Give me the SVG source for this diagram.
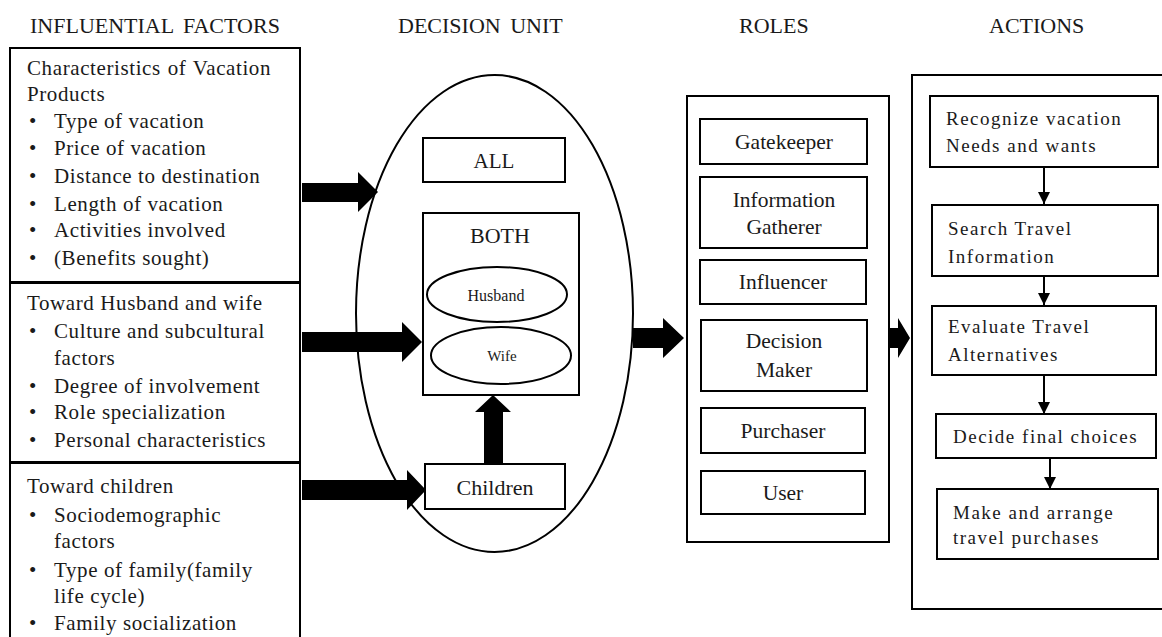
<svg xmlns="http://www.w3.org/2000/svg" width="1162" height="637" viewBox="0 0 1162 637">
<style>
text{font-family:"Liberation Serif","Times New Roman",Tinos,"Noto Serif","DejaVu Serif",serif;fill:#1a1a1a}
.h{font-size:22px}
.b{font-size:21px;letter-spacing:0.6px}
.r{font-size:21.5px;text-anchor:middle}
.a{font-size:19px;letter-spacing:1.5px}
.c{text-anchor:middle}
.box{fill:#fff;stroke:#000;stroke-width:2}
.ln{fill:none;stroke:#000;stroke-width:2}
.blk{fill:#000;stroke:none}
</style>
<defs>
<marker id="ah" viewBox="0 0 12 12" refX="12" refY="6" markerWidth="12" markerHeight="12" markerUnits="userSpaceOnUse" orient="auto">
<path d="M0,0 L12,6 L0,12 Z" fill="#000"/>
</marker>
</defs>
<rect width="1162" height="637" fill="#fff"/>

<g id="headings">
<text class="h" x="30" y="33" style="word-spacing:4px">INFLUENTIAL FACTORS</text>
<text class="h" x="398" y="33" style="word-spacing:4px">DECISION UNIT</text>
<text class="h" x="739" y="33">ROLES</text>
<text class="h" x="989" y="33">ACTIONS</text>
</g>

<g id="factor-product">
<rect class="box" x="10" y="48" width="290" height="234"/>
<text class="b" x="27" y="75" style="word-spacing:1px">Characteristics of Vacation</text>
<text class="b" x="27" y="101">Products</text>
<text class="b" x="29" y="128">•</text><text class="b" x="54" y="128">Type of vacation</text>
<text class="b" x="29" y="155">•</text><text class="b" x="54" y="155">Price of vacation</text>
<text class="b" x="29" y="183">•</text><text class="b" x="54" y="183">Distance to destination</text>
<text class="b" x="29" y="211">•</text><text class="b" x="54" y="211">Length of vacation</text>
<text class="b" x="29" y="237">•</text><text class="b" x="54" y="237">Activities involved</text>
<text class="b" x="29" y="265">•</text><text class="b" x="54" y="265">(Benefits sought)</text>
</g>

<g id="factor-couple">
<rect class="box" x="10" y="283" width="290" height="179"/>
<text class="b" x="27" y="310">Toward Husband and wife</text>
<text class="b" x="29" y="338">•</text><text class="b" x="54" y="338">Culture and subcultural</text>
<text class="b" x="54" y="365">factors</text>
<text class="b" x="29" y="393">•</text><text class="b" x="54" y="393">Degree of involvement</text>
<text class="b" x="29" y="419">•</text><text class="b" x="54" y="419">Role specialization</text>
<text class="b" x="29" y="447">•</text><text class="b" x="54" y="447">Personal characteristics</text>
</g>

<g id="factor-children">
<rect class="box" x="10" y="463" width="290" height="190"/>
<text class="b" x="27" y="493">Toward children</text>
<text class="b" x="29" y="522">•</text><text class="b" x="54" y="522">Sociodemographic</text>
<text class="b" x="54" y="548">factors</text>
<text class="b" x="29" y="577">•</text><text class="b" x="54" y="577">Type of family(family</text>
<text class="b" x="54" y="603">life cycle)</text>
<text class="b" x="29" y="630">•</text><text class="b" x="54" y="630">Family socialization</text>
</g>

<g id="decision-unit">
<ellipse cx="494.5" cy="313.5" rx="138.5" ry="238.5" fill="#fff" stroke="#000" stroke-width="2"/>
</g>

<g id="all">
<rect class="box" x="423" y="138" width="142" height="44"/>
<text class="c" x="494" y="168" style="font-size:21px">ALL</text>
</g>

<g id="both">
<rect class="box" x="423" y="213" width="156" height="182"/>
<text class="c" x="500" y="243" style="font-size:22px">BOTH</text>
</g>

<g id="husband">
<ellipse cx="497" cy="294.5" rx="70" ry="27.5" fill="#fff" stroke="#000" stroke-width="2"/>
<text class="c" x="496" y="301" style="font-size:16px">Husband</text>
</g>

<g id="wife">
<ellipse cx="501" cy="355.5" rx="70" ry="28.5" fill="#fff" stroke="#000" stroke-width="2"/>
<text class="c" x="502" y="361" style="font-size:15px">Wife</text>
</g>

<g id="children">
<rect class="box" x="425" y="464" width="140" height="45"/>
<text class="c" x="495" y="495" style="font-size:22px">Children</text>
</g>

<g id="roles">
<rect class="box" x="687" y="96" width="202" height="446"/>
</g>
<g id="gatekeeper"><rect class="box" x="700" y="119" width="167" height="45"/><text class="r" x="784" y="149">Gatekeeper</text></g>
<g id="info-gatherer"><rect class="box" x="700" y="177" width="167" height="71"/><text class="r" x="784" y="207">Information</text><text class="r" x="784" y="234">Gatherer</text></g>
<g id="influencer"><rect class="box" x="700" y="260" width="166" height="44"/><text class="r" x="783" y="289">Influencer</text></g>
<g id="decision-maker"><rect class="box" x="701" y="320" width="166" height="71"/><text class="r" x="784" y="348">Decision</text><text class="r" x="784" y="377">Maker</text></g>
<g id="purchaser"><rect class="box" x="701" y="408" width="164" height="45"/><text class="r" x="783" y="438">Purchaser</text></g>
<g id="user"><rect class="box" x="701" y="471" width="164" height="43"/><text class="r" x="783" y="500">User</text></g>

<g id="actions">
<rect class="box" x="912" y="75" width="270" height="534"/>
</g>
<g id="recognize"><rect class="box" x="930" y="96" width="228" height="71"/><text class="a" x="946" y="125">Recognize vacation</text><text class="a" x="946" y="152">Needs and wants</text></g>
<g id="search"><rect class="box" x="932" y="205" width="226" height="71"/><text class="a" x="948" y="235">Search Travel</text><text class="a" x="948" y="263">Information</text></g>
<g id="evaluate"><rect class="box" x="932" y="306" width="224" height="69"/><text class="a" x="948" y="333">Evaluate Travel</text><text class="a" x="948" y="361">Alternatives</text></g>
<g id="decide"><rect class="box" x="936" y="414" width="220" height="44"/><text class="a" x="953" y="443">Decide final choices</text></g>
<g id="make"><rect class="box" x="937" y="489" width="221" height="70"/><text class="a" x="953" y="519">Make and arrange</text><text class="a" x="953" y="544">travel purchases</text></g>

<g id="connectors">
<polygon class="blk" points="302,183 358,183 358,172 378,192 358,212 358,202 302,202"/>
<polygon class="blk" points="302,332 402,332 402,322 422,342 402,362 402,352 302,352"/>
<polygon class="blk" points="302,480 407,480 407,470 426,490 407,510 407,500 302,500"/>
<polygon class="blk" points="484,464 484,412 475,412 493,395 511,412 503,412 503,464"/>
<polygon class="blk" points="633,328 663,328 663,318 684,338 663,358 663,348 633,348"/>
<polygon class="blk" points="889,328 898,328 898,318 910,338 898,358 898,348 889,348"/>
<line class="ln" x1="1044" y1="167" x2="1044" y2="204" marker-end="url(#ah)"/>
<line class="ln" x1="1044" y1="276" x2="1044" y2="305" marker-end="url(#ah)"/>
<line class="ln" x1="1044" y1="375" x2="1044" y2="414" marker-end="url(#ah)"/>
<line class="ln" x1="1050" y1="458" x2="1050" y2="489" marker-end="url(#ah)"/>
</g>
</svg>
